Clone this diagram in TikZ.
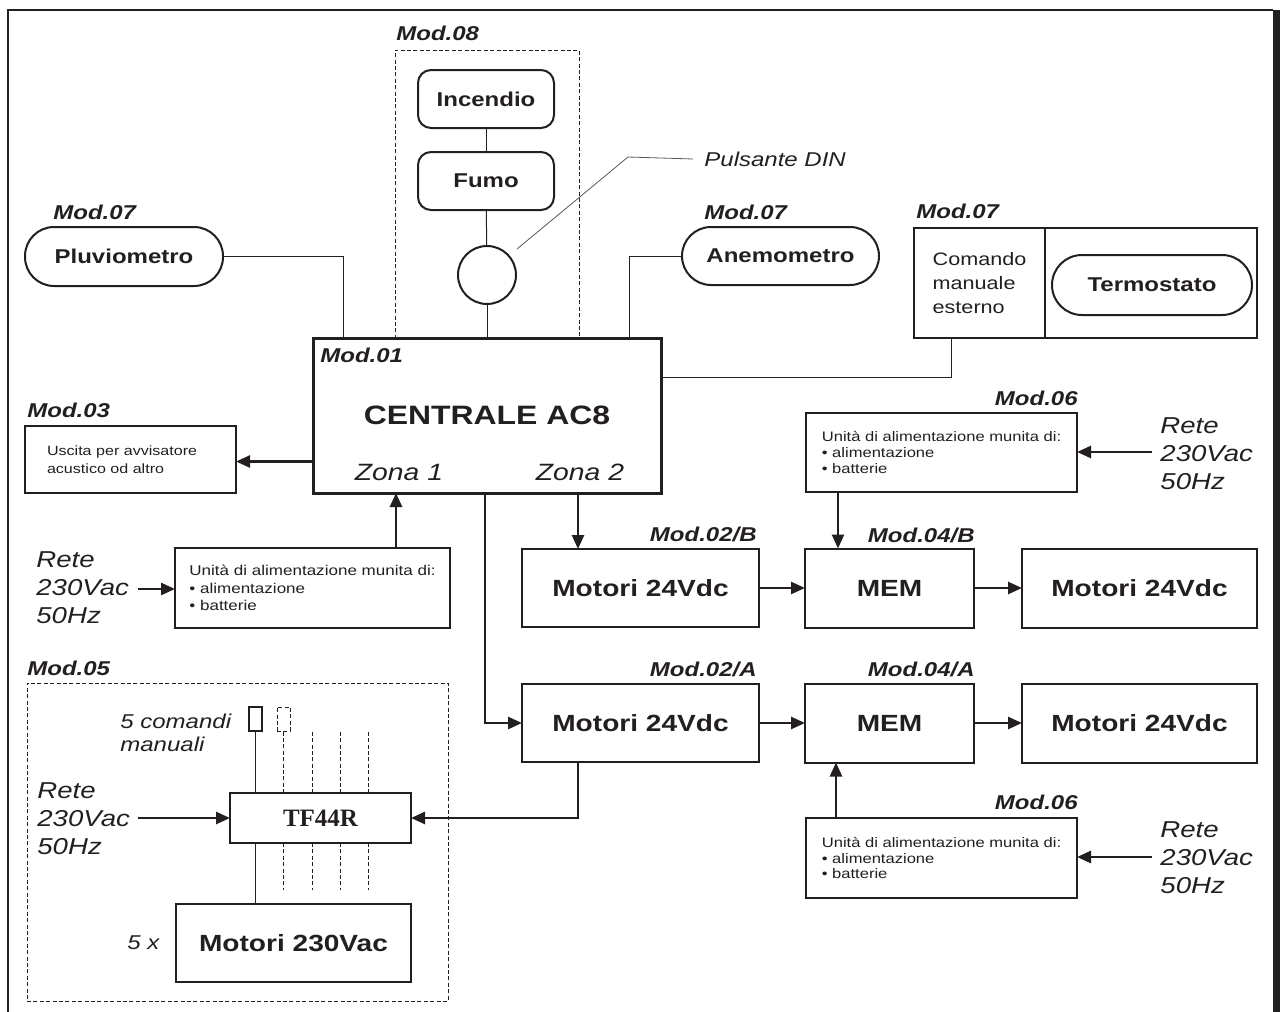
\documentclass[tikz,border=0pt]{standalone}
\usepackage{fontspec}
\setmainfont{Liberation Sans}[FakeStretch=1.2]
\newfontfamily\tnr{Liberation Serif}
\usetikzlibrary{arrows.meta}
\definecolor{ink}{RGB}{35,31,32}
\newcommand\fz[2]{\fontsize{#1}{#2}\selectfont}
\begin{document}
\begin{tikzpicture}[x=0.5pt,y=-0.5pt,
  box/.style={draw=ink, line width=1pt, inner sep=0, outer sep=0, text=ink},
  rbox/.style={box, rounded corners=6.5pt},
  stad/.style={box, rounded corners=14.5pt},
  thin/.style={draw=ink, line width=0.5pt},
  dsh/.style={draw=ink, line width=0.5pt, dash pattern=on 2pt off 1.2pt},
  arr/.style={draw=ink, line width=1.3pt, -{Triangle[length=7pt,width=6pt]}},
  modl/.style={font=\fz{10}{12}\bfseries\itshape, inner sep=0, text=ink},
  rete/.style={font=\fz{11.5}{14}\itshape, inner sep=0, align=left, anchor=west, text=ink},
  bold10/.style={font=\fz{10}{12}\bfseries},
  motor/.style={box, font=\fz{11.7}{14}\bfseries},
  psu/.style={box, font=\fz{7.1}{8.7}, align=left},
  psur/.style={box, font=\fz{6.9}{7.9}, align=left},
]
\useasboundingbox (0,0) rectangle (1280,1012);
% outer frame
\draw[ink, line width=1pt] (8,1012) -- (8,10) -- (1273,10);
\fill[ink] (1273,9.5) rectangle (1280,1012);

% Mod.08
\node[draw=ink, dsh, minimum width=92pt, minimum height=144pt, inner sep=0] (m08box) at (487,194) {};
\node[modl, anchor=west] (m08) at (396,33) {Mod.08};
\node[rbox, bold10, minimum width=68pt, minimum height=29pt] (incendio) at (486,99) {Incendio};
\node[rbox, bold10, minimum width=68pt, minimum height=29pt] (fumo) at (486,181) {Fumo};
\node[circle, draw=ink, line width=1pt, minimum size=29pt, inner sep=0] (din) at (487,275) {};
\node[font=\fz{10}{12}\itshape, inner sep=0, anchor=west, text=ink] (puls) at (704,159) {Pulsante DIN};
\coordinate (pl1) at (517,249);
\coordinate (pl2) at (628,157);

% Centrale
\node[box, line width=1.5pt, minimum width=174pt, minimum height=77.5pt, font=\fz{13.3}{16}\bfseries] (centrale) at (487,415.5) {CENTRALE AC8};
\node[modl, anchor=west] (m01) at (320,355) {Mod.01};
\node[font=\fz{11.8}{14}\itshape, inner sep=0, text=ink] (zona1) at (399,472) {Zona 1};
\node[font=\fz{11.8}{14}\itshape, inner sep=0, text=ink] (zona2) at (580,472) {Zona 2};

% Mod.07 sensors
\node[modl, anchor=west] (m07a) at (53,212) {Mod.07};
\node[stad, bold10, minimum width=99pt, minimum height=29.5pt] (pluvio) at (124,256.5) {Pluviometro};
\node[modl, anchor=west] (m07b) at (704,212) {Mod.07};
\node[stad, bold10, minimum width=98.5pt, minimum height=29pt] (anemo) at (780.5,256) {Anemometro};
\node[modl, anchor=west] (m07c) at (916,211) {Mod.07};
\node[box, minimum width=65.5pt, minimum height=55pt, font=\fz{9}{12}, align=left] (comando) at (979.5,283) {Comando\\manuale\\esterno};
\node[box, minimum width=106pt, minimum height=55pt] (termobox) at (1151,283) {};
\draw[ink, line width=1.4pt] (comando.north east) -- (comando.south east);
\node[box, bold10, rounded corners=15pt, minimum width=100pt, minimum height=30pt] (termo) at (1152,285) {Termostato};

% Mod.03
\node[modl, anchor=west] (m03) at (27,410) {Mod.03};
\node[box, font=\fz{6.7}{9}, align=left, text width=83.5pt, inner xsep=11pt, minimum height=33.5pt] (mod03) at (130.5,459.5) {Uscita per avvisatore\\acustico od altro};

% left PSU
\node[rete] (retel) at (36,588) {Rete\\230Vac\\50Hz};
\node[psu, minimum width=137.5pt, minimum height=40pt] (psl) at (312.5,588) {Unità di alimentazione munita di:\\\textbullet{} alimentazione\\\textbullet{} batterie};

% Mod.06 top
\node[modl, anchor=east] (m06a) at (1078,398) {Mod.06};
\node[psur, minimum width=135.5pt, minimum height=39.5pt] (pstr) at (941.5,452.5) {Unità di alimentazione munita di:\\\textbullet{} alimentazione\\\textbullet{} batterie};
\node[rete] (retetr) at (1160,453.5) {Rete\\230Vac\\50Hz};

% B row
\node[modl, anchor=east] (m02b) at (757,534) {Mod.02/B};
\node[modl, anchor=east] (m04b) at (975,535) {Mod.04/B};
\node[motor, minimum width=118.5pt, minimum height=39pt] (motb) at (640.5,588) {Motori 24Vdc};
\node[motor, minimum width=84.5pt, minimum height=39.5pt] (memb) at (889.5,588) {MEM};
\node[motor, minimum width=117.5pt, minimum height=39.5pt] (motb2) at (1139.5,588) {Motori 24Vdc};

% A row
\node[modl, anchor=east] (m02a) at (757,669) {Mod.02/A};
\node[modl, anchor=east] (m04a) at (975,669) {Mod.04/A};
\node[motor, minimum width=118.5pt, minimum height=39pt] (mota) at (640.5,723) {Motori 24Vdc};
\node[motor, minimum width=84.5pt, minimum height=39.5pt] (mema) at (889.5,723) {MEM};
\node[motor, minimum width=117.5pt, minimum height=39.5pt] (mota2) at (1139.5,723) {Motori 24Vdc};

% Mod.06 bottom
\node[modl, anchor=east] (m06b) at (1078,802) {Mod.06};
\node[psur, minimum width=135.5pt, minimum height=40pt] (psbr) at (941.5,858) {Unità di alimentazione munita di:\\\textbullet{} alimentazione\\\textbullet{} batterie};
\node[rete] (retebr) at (1160,857.5) {Rete\\230Vac\\50Hz};

% Mod.05
\node[modl, anchor=west] (m05) at (27,668) {Mod.05};
\node[draw=ink, dsh, minimum width=210.5pt, minimum height=159pt, inner sep=0] (m05box) at (237.5,842) {};
\node[font=\fz{10}{11.7}\itshape, inner sep=0, align=left, anchor=west, text=ink] (cmdlbl) at (120,733) {5 comandi\\manuali};
\node[box, minimum width=6.5pt, minimum height=12pt] (sw1) at (255.5,719) {};
\node[dsh, minimum width=6.5pt, minimum height=12pt, inner sep=0] (sw2) at (283.5,719) {};
\node[rete] (rete5) at (37,819) {Rete\\230Vac\\50Hz};
\node[box, minimum width=90.5pt, minimum height=25pt, font=\tnr\bfseries\fz{12.5}{15}] (tf) at (320.5,818) {TF44R};
\node[motor, minimum width=117.5pt, minimum height=39pt] (mot230) at (293.5,943) {Motori 230Vac};
\node[font=\fz{10}{12}\itshape, inner sep=0, anchor=west, text=ink] (cinque) at (127,943) {5 x};

% ---- connectors ----
\draw[thin] (incendio) -- (fumo);
\draw[thin] (fumo) -- (din);
\draw[thin] (din.south) -- (din.south |- centrale.north);
\draw[ink!75, line width=0.4pt] (pl1) -- (pl2) -- ([xshift=-5.5pt]puls.west);
\coordinate (cp1) at (343.5,338);
\draw[thin] (pluvio.east) -| (cp1);
\coordinate (cp2) at (629,338);
\draw[thin] (anemo.west) -| (cp2);
\coordinate (cm1) at (951,338);
\coordinate (ce1) at (661,377);
\draw[thin] (cm1) |- (ce1);

\coordinate (c3) at (313,461.5);
\draw[arr] (c3) -- (c3 -| mod03.east);
\coordinate (z1) at (396,548);
\draw[arr] (z1) -- (z1 |- centrale.south);
\coordinate (r1) at (138,589);
\draw[arr] (r1) -- (r1 -| psl.west);

\coordinate (z2) at (578,493);
\draw[arr] (z2) -- (z2 |- motb.north);
\coordinate (c4) at (485,493);
\draw[arr] (c4) |- (mota.west);

\draw[arr] (motb) -- (memb);
\draw[arr] (memb) -- (motb2);
\draw[arr] (mota) -- (mema);
\draw[arr] (mema) -- (mota2);

\coordinate (p1) at (838,492.5);
\draw[arr] (p1) -- (p1 |- memb.north);
\coordinate (r2) at (1152,452);
\draw[arr] (r2) -- (r2 -| pstr.east);
\coordinate (p2) at (836,818);
\draw[arr] (p2) -- (p2 |- mema.south);
\coordinate (r3) at (1152,857);
\draw[arr] (r3) -- (r3 -| psbr.east);

\coordinate (m1) at (578,762.5);
\draw[arr] (m1) |- (tf.east);
\coordinate (r4) at (138,818);
\draw[arr] (r4) -- (r4 -| tf.west);

\draw[thin] (sw1.south) -- (sw1.south |- tf.north);
\draw[thin] (sw1.south |- tf.south) -- (sw1.south |- mot230.north);
\draw[dsh] (sw2.south) -- (sw2.south |- tf.north);
\foreach \xx in {312.3,340,368.3} {
  \draw[dsh] (\xx,731.7) -- (tf.north -| \xx,0);
}
\foreach \xx in {283.5,312.3,340,368.3} {
  \draw[dsh] (tf.south -| \xx,0) -- (\xx,890);
}
\end{tikzpicture}
\end{document}
